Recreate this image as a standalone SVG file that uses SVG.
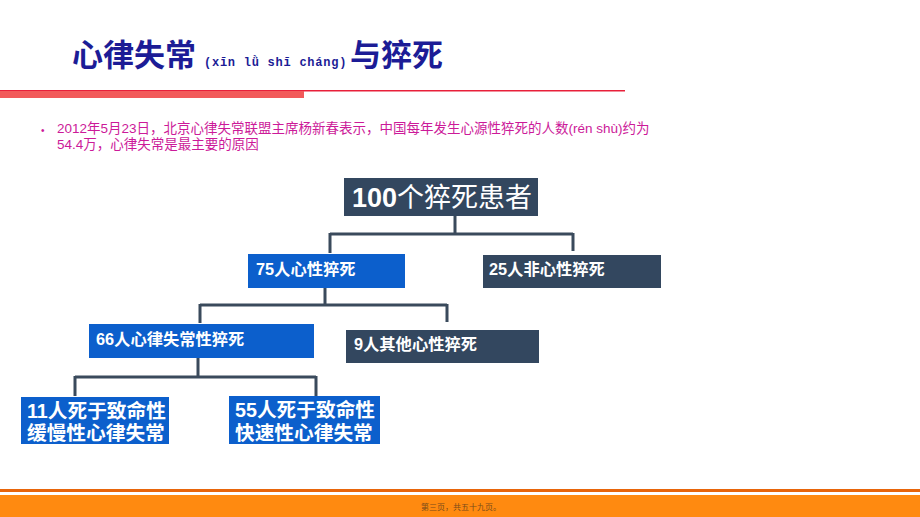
<svg xmlns="http://www.w3.org/2000/svg" width="920" height="517" viewBox="0 0 920 517">
<style>
.t{font-family:"Liberation Sans","Noto Sans CJK SC",sans-serif}
.dark{fill:#33475f}
.blue{fill:#0c5fcc}
.lbl{fill:#fff;font-weight:bold;font-size:16.3px}
.lbl2{fill:#fff;font-weight:bold;font-size:19.7px}
.conn{fill:none;stroke:#3a4a5c;stroke-width:3}
</style>
<rect width="920" height="517" fill="#fff"/>
<g id="title">
<text class="t" x="72" y="66" font-size="31" font-weight="bold" fill="#1c1c96">心律失常</text>
<text x="204" y="66" font-family="Liberation Mono, monospace" font-size="12" letter-spacing="0.75" font-weight="bold" fill="#1c1c96">(xīn lǜ shī cháng)</text>
<text class="t" x="350" y="66" font-size="31" font-weight="bold" fill="#1c1c96">与猝死</text>
</g>
<g id="rule">
<rect x="0" y="90" width="625" height="1.5" fill="#e8203a"/>
<rect x="0" y="91" width="304" height="7" fill="#f25a5a"/>
</g>
<g id="bullet">
<text class="t" x="41" y="134" font-size="10" fill="#cc1a99">•</text>
<text class="t" x="57" y="133" font-size="13.5" fill="#cc1a99">2012年5月23日，北京心律失常联盟主席杨新春表示，中国每年发生心源性猝死的人数(rén shù)约为</text>
<text class="t" x="57" y="149" font-size="13.5" fill="#cc1a99">54.4万，心律失常是最主要的原因</text>
</g>
<g id="connectors">
<path class="conn" d="M455 216V234M330 234H573M330 233V253M573 233V251"/>
<path class="conn" d="M325 288V305M200 305H447M200 304V323M447 304V322"/>
<path class="conn" d="M198 358V377M75 377H316M75 376V396M316 376V396"/>
</g>
<g id="n100">
<rect class="dark" x="344" y="178" width="194" height="38"/>
<text class="t" x="352" y="207" font-size="27" fill="#fff"><tspan font-weight="bold">100</tspan>个猝死患者</text>
</g>
<g id="n75">
<rect class="blue" x="248" y="254" width="157" height="34"/>
<text class="t lbl" x="256" y="275">75人心性猝死</text>
</g>
<g id="n25">
<rect class="dark" x="483" y="255" width="178" height="33"/>
<text class="t lbl" x="489" y="275">25人非心性猝死</text>
</g>
<g id="n66">
<rect class="blue" x="89" y="324" width="225" height="34"/>
<text class="t lbl" x="96" y="345">66人心律失常性猝死</text>
</g>
<g id="n9">
<rect class="dark" x="346" y="330" width="193" height="33"/>
<text class="t lbl" x="354" y="350">9人其他心性猝死</text>
</g>
<g id="n11">
<rect class="blue" x="21" y="397" width="148" height="47"/>
<text class="t lbl2" x="27" y="418">11人死于致命性</text>
<text class="t lbl2" x="27" y="440">缓慢性心律失常</text>
</g>
<g id="n55">
<rect class="blue" x="229" y="396" width="151" height="48"/>
<text class="t lbl2" x="235" y="417">55人死于致命性</text>
<text class="t lbl2" x="235" y="440">快速性心律失常</text>
</g>
<g id="footer">
<rect x="0" y="489" width="920" height="3" fill="#e8650a"/>
<rect x="0" y="495" width="920" height="22" fill="#ff8a10"/>
<text class="t" x="461" y="510" font-size="8" fill="#7a4a1a" text-anchor="middle">第三页，共五十九页。</text>
</g>
</svg>
